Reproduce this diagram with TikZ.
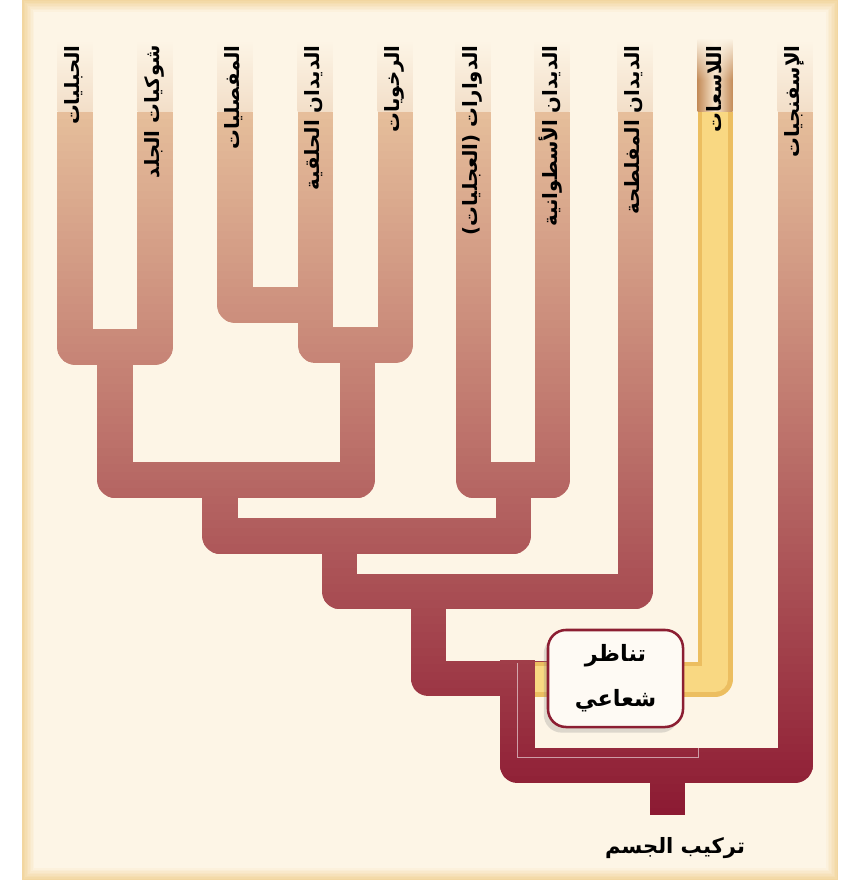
\documentclass[tikz,border=0pt]{standalone}
\usepackage{fontspec}
\usetikzlibrary{shadows,fadings}
\TeXXeTstate=1
\newfontfamily\arabicfont[Script=Arabic]{DejaVu Sans}
\definecolor{panel}{RGB}{253,245,230}
\definecolor{panelrim}{RGB}{242,214,160}
\definecolor{zonetan}{RGB}{242,222,200}
\definecolor{cnedge}{RGB}{196,140,90}
\definecolor{cnpale}{RGB}{248,230,205}
\definecolor{cngold}{RGB}{236,190,96}
\definecolor{cnlight}{RGB}{249,216,130}
\definecolor{boxred}{RGB}{140,30,50}
\definecolor{bandcol}{RGB}{230,190,155}
\tikzset{
  branch/.style={line width=0.875cm, line join=round, draw=bandcol},
  taxon/.style={rotate=90, anchor=east, inner sep=0pt, font=\arabicfont\bfseries\fontsize{14}{16}\selectfont},
  symbox/.style={draw=boxred, line width=1.8pt, rounded corners=0.45cm, fill=white!55!panel, minimum width=3.375cm, minimum height=2.425cm, align=center, font=\arabicfont\bfseries\fontsize{16}{32}\selectfont, drop shadow={shadow xshift=-3pt, shadow yshift=-4pt, opacity=.25}},
  rootlabel/.style={font=\arabicfont\bfseries\fontsize{15}{18}\selectfont}
}
% one band of the tree colour, from light tan at the tips to crimson at the root
\newcommand\setband[1]{%
  \pgfmathsetmacro\tval{min(max((#1-112)/703,0),1)}%
  \pgfmathtruncatemacro\rval{230-90*\tval}%
  \pgfmathtruncatemacro\gval{190-165*\tval}%
  \pgfmathtruncatemacro\bval{155-105*\tval}%
  \definecolor{bandcol}{RGB}{\rval,\gval,\bval}}
\newcommand\uppertree{%
  \draw[branch] (t1) |- (n12);
  \draw[branch] (t2) |- (n12);
  \draw[branch] (t3) |- (n34);
  \draw[branch] (t4) |- (n345);
  \draw[branch] (t5) |- (n345);
  \draw[branch] (n12) |- (n15);
  \draw[branch] (n345) |- (n15);
  \draw[branch] (t6) |- (n67);
  \draw[branch] (t7) |- (n67);
  \draw[branch] (n15) |- (n17);
  \draw[branch] (n67) |- (n17);
  \draw[branch] (n17) |- (n18);
  \draw[branch] (t8) |- (n18);
  \draw[branch] (n18) |- (symc);
  \draw[branch] (t10) |- (root);}
\newcommand\lowertree{%
  \draw[branch] (eum) |- (root);
  \draw[branch] (root) -- (base);}

\begin{document}
\begin{tikzpicture}[x=0.025cm, y=-0.025cm]
  \useasboundingbox (0,0) rectangle (848,885);
  \fill[white] (0,0) rectangle (848,885);
  % panel with a soft golden rim
  \foreach \i in {0,...,8} {
    \pgfmathtruncatemacro\mixp{\i*12.5}
    \fill[panel!\mixp!panelrim] (22+\i*1.5,\i*1.5) rectangle (838-\i*1.5,880-\i*1.5);
  }

  % tips, junctions and root
  \coordinate (t1) at (75,112);
  \coordinate (t2) at (155,112);
  \coordinate (t3) at (235,112);
  \coordinate (t4) at (315,112);
  \coordinate (t5) at (395,112);
  \coordinate (t6) at (473,112);
  \coordinate (t7) at (552,112);
  \coordinate (t8) at (635,112);
  \coordinate (t9) at (715,112);
  \coordinate (t10) at (795,112);
  \coordinate (n12) at (115,347);
  \coordinate (n34) at (315,305);
  \coordinate (n345) at (357,345);
  \coordinate (n15) at (220,480);
  \coordinate (n67) at (513,480);
  \coordinate (n17) at (339,536);
  \coordinate (n18) at (428,591);
  \coordinate (symc) at (615.5,678.5);
  \coordinate (cnend) at (517,679);
  \coordinate (eum) at (517,660);
  \coordinate (root) at (667,765);
  \coordinate (base) at (667,815);

  % label zones above the branches
  \foreach \xx in {75,155,235,315,395,473,552,635,795}
    \shade[top color=panel, bottom color=zonetan] (\xx-17.5,40) rectangle (\xx+17.5,112);
  \shade[left color=cnedge, right color=cnedge, middle color=cnpale] (697.5,40) rectangle (732.5,112);
  \fill[panel, path fading=south] (696,38) rectangle (734,80);

  % branches, drawn band by band for the colour ramp
  \foreach \yy in {112,120,...,816} {
    \setband{\yy}
    \begin{scope}
      \clip (0,\yy) rectangle (848,\yy+9);
      \uppertree
    \end{scope}
  }
  \draw[line width=0.875cm, line join=round, cngold] (t9) |- (cnend);
  \draw[line width=0.65cm, line join=round, cnlight] (t9) |- (cnend);
  \foreach \yy in {656,664,...,816} {
    \setband{\yy}
    \begin{scope}
      \clip (0,\yy) rectangle (848,\yy+9);
      \lowertree
    \end{scope}
  }
  \draw[white, opacity=.55, line width=0.6pt] (517,663) |- (698,757) -- (698,748);

  % taxa
  \node[taxon] (chord) at (74,45) {\beginR الحبليات\endR};
  \node[taxon] (echin) at (154,45) {\beginR شوكيات الجلد\endR};
  \node[taxon] (arthr) at (234,45) {\beginR المفصليات\endR};
  \node[taxon] (annel) at (314,45) {\beginR الديدان الحلقية\endR};
  \node[taxon] (moll) at (394,45) {\beginR الرخويات\endR};
  \node[taxon] (rotif) at (472,45) {\beginR الدوارات (العجليات)\endR};
  \node[taxon] (nemat) at (551,45) {\beginR الديدان الأسطوانية\endR};
  \node[taxon] (plath) at (634,45) {\beginR الديدان المفلطحة\endR};
  \node[taxon] (cnid) at (714,45) {\beginR اللاسعات\endR};
  \node[taxon] (porif) at (794,45) {\beginR الإسفنجيات\endR};

  \node[symbox] (sym) at (symc) {\beginR تناظر\endR\\\beginR شعاعي\endR};
  \node[rootlabel] (body) at (675,848) {\beginR تركيب الجسم\endR};
\end{tikzpicture}
\end{document}
